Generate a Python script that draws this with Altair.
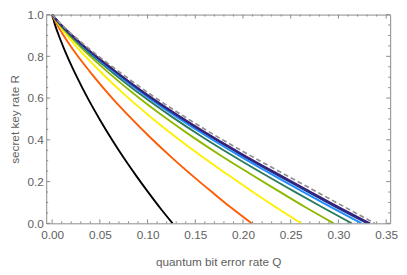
import altair as alt
import pandas as pd

# ---- data ----
curve_names = ["c1", "c2", "c3", "c4", "c5", "c6", "c7", "c8", "limit"]
curve_colors = ["#000000", "#FF5a00", "#FFF000", "#8DB800", "#2B7A5E",
                "#1E8CFF", "#1F2F8F", "#3A1F78", "#8f8f8f"]

q_c1 = [0, 0.00252, 0.00631, 0.01262, 0.01893, 0.02524, 0.03786, 0.05048, 0.0631, 0.07572, 0.08834, 0.10096, 0.11358, 0.1262]
r_c1 = [1, 0.958, 0.908, 0.835, 0.769, 0.708, 0.595, 0.493, 0.398, 0.309, 0.226, 0.147, 0.071, 0]

q_c2 = [0, 0.0042, 0.0105, 0.0209, 0.0314, 0.0418, 0.0627, 0.0836, 0.1045, 0.1254, 0.1463, 0.1672, 0.1881, 0.209]
r_c2 = [1, 0.960, 0.911, 0.839, 0.774, 0.714, 0.601, 0.499, 0.404, 0.315, 0.231, 0.151, 0.073, 0]

q_c3 = [0, 0.0052, 0.0131, 0.0261, 0.0392, 0.0522, 0.0783, 0.1044, 0.1305, 0.1566, 0.1827, 0.2088, 0.2349, 0.261]
r_c3 = [1, 0.962, 0.914, 0.843, 0.779, 0.719, 0.607, 0.505, 0.410, 0.321, 0.237, 0.155, 0.076, 0]

q_c4 = [0, 0.0059, 0.0148, 0.0295, 0.0443, 0.059, 0.0885, 0.118, 0.1475, 0.177, 0.2065, 0.236, 0.2655, 0.295]
r_c4 = [1, 0.963, 0.916, 0.846, 0.782, 0.722, 0.610, 0.508, 0.413, 0.324, 0.240, 0.158, 0.077, 0]

q_c5 = [0, 0.0063, 0.0157, 0.0314, 0.0471, 0.0628, 0.0942, 0.1256, 0.157, 0.1884, 0.2198, 0.2512, 0.2826, 0.314]
r_c5 = [1, 0.963, 0.917, 0.847, 0.783, 0.724, 0.612, 0.510, 0.415, 0.326, 0.241, 0.159, 0.078, 0]

q_c6 = [0, 0.0065, 0.0162, 0.0324, 0.0486, 0.0648, 0.0972, 0.1296, 0.162, 0.1944, 0.2268, 0.2592, 0.2916, 0.324]
r_c6 = [1, 0.964, 0.918, 0.848, 0.785, 0.726, 0.614, 0.512, 0.417, 0.328, 0.243, 0.160, 0.079, 0]

q_c7 = [0, 0.0066, 0.0165, 0.033, 0.0495, 0.066, 0.099, 0.132, 0.165, 0.198, 0.231, 0.264, 0.297, 0.33]
r_c7 = [1, 0.964, 0.918, 0.849, 0.786, 0.727, 0.615, 0.513, 0.418, 0.329, 0.244, 0.161, 0.079, 0]

q_c8 = [0, 0.0067, 0.0167, 0.0333, 0.05, 0.0666, 0.0999, 0.1332, 0.1665, 0.1998, 0.2331, 0.2664, 0.2997, 0.333]
r_c8 = [1, 0.964, 0.919, 0.850, 0.787, 0.728, 0.616, 0.514, 0.419, 0.330, 0.245, 0.162, 0.079, 0]

q_lim = [0, 0.0067, 0.0169, 0.0338, 0.0507, 0.0676, 0.1014, 0.1352, 0.169, 0.2028, 0.2366, 0.2704, 0.3042, 0.338]
r_lim = [1, 0.966, 0.922, 0.855, 0.793, 0.735, 0.623, 0.521, 0.426, 0.337, 0.252, 0.168, 0.084, 0]

x_major = [0.0, 0.05, 0.10, 0.15, 0.20, 0.25, 0.30, 0.35]
x_minor = [0.01, 0.02, 0.03, 0.04, 0.06, 0.07, 0.08, 0.09, 0.11, 0.12, 0.13, 0.14,
           0.16, 0.17, 0.18, 0.19, 0.21, 0.22, 0.23, 0.24, 0.26, 0.27, 0.28, 0.29,
           0.31, 0.32, 0.33, 0.34]
y_major = [0.0, 0.2, 0.4, 0.6, 0.8, 1.0]
y_minor = [0.05, 0.1, 0.15, 0.25, 0.3, 0.35, 0.45, 0.5, 0.55, 0.65, 0.7, 0.75,
           0.85, 0.9, 0.95]

# ---- build table ----
series = [(q_c1, r_c1), (q_c2, r_c2), (q_c3, r_c3), (q_c4, r_c4), (q_c5, r_c5),
          (q_c6, r_c6), (q_c7, r_c7), (q_c8, r_c8), (q_lim, r_lim)]
rows = []
for i, (name, (qs, rs)) in enumerate(zip(curve_names, series)):
    for q, r in zip(qs, rs):
        rows.append({"Q": q, "R": r, "curve": name, "k": i})
df = pd.DataFrame(rows)

W, H = 351, 213
xs = alt.Scale(domain=[-0.0062, 0.3542], nice=False, zero=False)
ys = alt.Scale(domain=[0, 1], nice=False, zero=False)
cs = alt.Scale(domain=curve_names, range=curve_colors)
FONT = "Liberation Sans"
GRAY = "#606060"

xaxis = alt.Axis(values=x_major, format=".2f", ticks=False, domain=False, grid=False,
                 labelPadding=7, title="quantum bit error rate Q", titlePadding=16,
                 labelFontSize=12, titleFontSize=12, labelColor=GRAY, titleColor=GRAY,
                 labelFont=FONT, titleFont=FONT, titleFontWeight="normal")
yaxis = alt.Axis(values=y_major, format=".1f", ticks=False, domain=False, grid=False,
                 labelPadding=3, title="secret key rate R", titlePadding=6,
                 labelFontSize=12, titleFontSize=12, labelColor=GRAY, titleColor=GRAY,
                 labelFont=FONT, titleFont=FONT, titleFontWeight="normal")

solid = alt.Chart(df[df.curve != "limit"]).mark_line(
    strokeWidth=1.9, interpolate="monotone", clip=True
).encode(
    x=alt.X("Q:Q", scale=xs, axis=xaxis),
    y=alt.Y("R:Q", scale=ys, axis=yaxis),
    color=alt.Color("curve:N", scale=cs, legend=None),
    order="k:Q",
)

dashed = alt.Chart(df[df.curve == "limit"]).mark_line(
    strokeWidth=1.7, strokeDash=[5, 3], interpolate="monotone", clip=True
).encode(
    x=alt.X("Q:Q", scale=xs, axis=xaxis),
    y=alt.Y("R:Q", scale=ys, axis=yaxis),
    color=alt.Color("curve:N", scale=cs, legend=None),
)

TICKC = "#888888"

def xticks(vals, length):
    d = pd.DataFrame({"v": vals})
    b = alt.Chart(d).mark_rule(color=TICKC, strokeWidth=1).encode(
        x=alt.X("v:Q", scale=xs, axis=xaxis), y=alt.value(H), y2=alt.value(H - length))
    t = alt.Chart(d).mark_rule(color=TICKC, strokeWidth=1).encode(
        x=alt.X("v:Q", scale=xs, axis=xaxis), y=alt.value(0), y2=alt.value(length))
    return [b, t]

def yticks(vals, length):
    d = pd.DataFrame({"v": vals})
    l = alt.Chart(d).mark_rule(color=TICKC, strokeWidth=1).encode(
        y=alt.Y("v:Q", scale=ys, axis=yaxis), x=alt.value(0), x2=alt.value(length))
    r = alt.Chart(d).mark_rule(color=TICKC, strokeWidth=1).encode(
        y=alt.Y("v:Q", scale=ys, axis=yaxis), x=alt.value(W), x2=alt.value(W - length))
    return [l, r]

layers = (xticks(x_major, 4) + xticks(x_minor, 2) +
          yticks(y_major, 4) + yticks(y_minor, 2) + [solid, dashed])

chart = alt.layer(*layers).properties(
    width=W, height=H,
    autosize=alt.AutoSizeParams(type="none"),
    padding={"left": 39, "top": 4, "right": 9, "bottom": 50},
).configure_view(stroke="#8a8a8a", strokeWidth=1)

chart.save("out.html", embed_options={"renderer": "svg", "actions": False})
